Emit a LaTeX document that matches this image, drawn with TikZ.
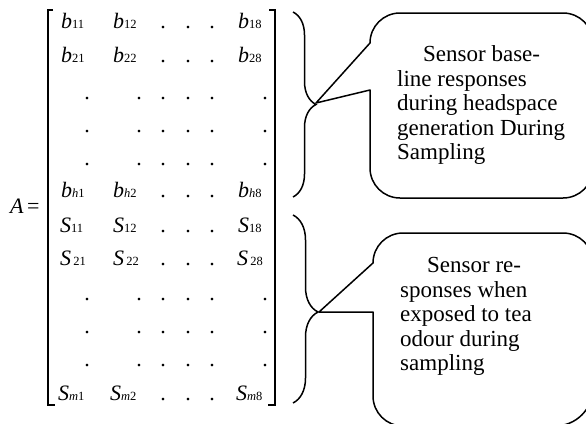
\documentclass[tikz,border=0pt]{standalone}
\usepackage{fontspec}
\setmainfont{Liberation Serif}
\usetikzlibrary{decorations.pathreplacing}

% matrix element: italic letter with a small upright index
\newcommand\mentry[2]{\textit{#1}\raisebox{-0.8pt}{\fontsize{12.5}{13}\selectfont #2}}

\begin{document}
\begin{tikzpicture}[x=1pt,y=-1pt,
  cell/.style={inner sep=0pt, anchor=base west, font=\fontsize{22}{24}\selectfont},
  dotc/.style={inner sep=0pt, anchor=base, font=\fontsize{22}{24}\selectfont},
  bracket/.style={line width=1.2pt},
  bracebar/.style={line width=1.5pt, decorate, decoration={brace, amplitude=#1}},
  callout/.style={line width=1.5pt, line join=round},
  calltext/.style={inner sep=0pt, anchor=north west, align=left,
                   font=\fontsize{23}{24.5}\selectfont}
]
\useasboundingbox (0,0) rectangle (586,423);
\clip (0,0) rectangle (586,423);

% left-hand side
\node[cell] (lhsA) at (10,213) {\textit{A}};
\node[cell] (lhsEq) at (27,213) {=};

% brackets of the matrix
\draw[bracket] (53,10) -- (48,10) -- (48,405) -- (55,405);
\draw[bracket] (269,10) -- (275,10) -- (275,405) -- (268,405);

% baseline responses
\node[cell] (b11) at (61,28)  {\mentry{b}{11}};
\node[cell] (b12) at (113,28) {\mentry{b}{12}};
\node[cell] (b18) at (238,28) {\mentry{b}{18}};
\node[cell] (b21) at (61,62)  {\mentry{b}{21}};
\node[cell] (b22) at (113,62) {\mentry{b}{22}};
\node[cell] (b28) at (238,62) {\mentry{b}{28}};
\node[cell] (bh1) at (61,197)  {\mentry{b}{\textit{h}1}};
\node[cell] (bh2) at (113,197) {\mentry{b}{\textit{h}2}};
\node[cell] (bh8) at (238,197) {\mentry{b}{\textit{h}8}};

% sampling responses
\node[cell] (s11) at (60,232)  {\mentry{S}{11}};
\node[cell] (s12) at (113,232) {\mentry{S}{12}};
\node[cell] (s18) at (238,232) {\mentry{S}{18}};
\node[cell] (s21) at (60,265)  {\mentry{S}{\,21}};
\node[cell] (s22) at (113,265) {\mentry{S}{\,22}};
\node[cell] (s28) at (237,265) {\mentry{S}{\,28}};
\node[cell] (sm1) at (58,400)  {\mentry{S}{\textit{m}1}};
\node[cell] (sm2) at (110,400) {\mentry{S}{\textit{m}2}};
\node[cell] (sm8) at (236,400) {\mentry{S}{\textit{m}8}};

% ellipsis dots inside the full rows
\foreach \r/\y in {1/28,2/62,6/197,7/232,8/265,12/400}
  \foreach \c/\x in {3/163,4/188,5/212}
    \node[dotc] (dot-\r-\c) at (\x,\y) {.};

% rows made only of dots
\foreach \r/\y in {3/99,4/132,5/165,9/300,10/333,11/366}
  \foreach \c/\x in {1/87,2/139,3/163,4/188,5/212,6/265}
    \node[dotc] (dot-\r-\c) at (\x,\y) {.};

% braces grouping the two blocks
\coordinate (br1top) at (293,12);
\coordinate (br1bot) at (293,197);
\coordinate (br2top) at (293,215);
\coordinate (br2bot) at (293,403);
\draw[bracebar=23] (br1top) -- (br1bot);
\draw[bracebar=25, decoration={aspect=0.516}] (br2top) -- (br2bot);

% callout for the baseline block
\coordinate (tip1) at (316,103);
\coordinate (c1a) at (370,43);
\coordinate (c1b) at (370,90);
\draw[callout] (c1a) -- (tip1) -- (c1b) -- (370,168)
  .. controls (370,184.6) and (383.4,198) .. (400,198) -- (563,198)
  .. controls (579.6,198) and (593,184.6) .. (593,168) -- (593,43)
  .. controls (593,26.4) and (579.6,13) .. (563,13) -- (400,13)
  .. controls (383.4,13) and (370,26.4) .. (c1a) -- cycle;
\node[calltext] (txt1) at (397,45.5)
  {\hspace*{26pt}Sensor base-\\line responses\\during headspace\\generation During\\Sampling};

% callout for the sampling block
\coordinate (tip2) at (319,312);
\coordinate (c2a) at (373,263);
\coordinate (c2b) at (373,312);
\draw[callout] (c2a) -- (tip2) -- (c2b) -- (373,396)
  .. controls (373,412.6) and (386.4,426) .. (403,426) -- (555,426)
  .. controls (576,426) and (593,409) .. (593,388) -- (593,263)
  .. controls (593,246.4) and (579.6,233) .. (563,233) -- (403,233)
  .. controls (386.4,233) and (373,246.4) .. (c2a) -- cycle;
\node[calltext] (txt2) at (400,257.5)
  {\hspace*{27pt}Sensor re-\\sponses when\\exposed to tea\\odour during\\sampling};
\end{tikzpicture}
\end{document}
